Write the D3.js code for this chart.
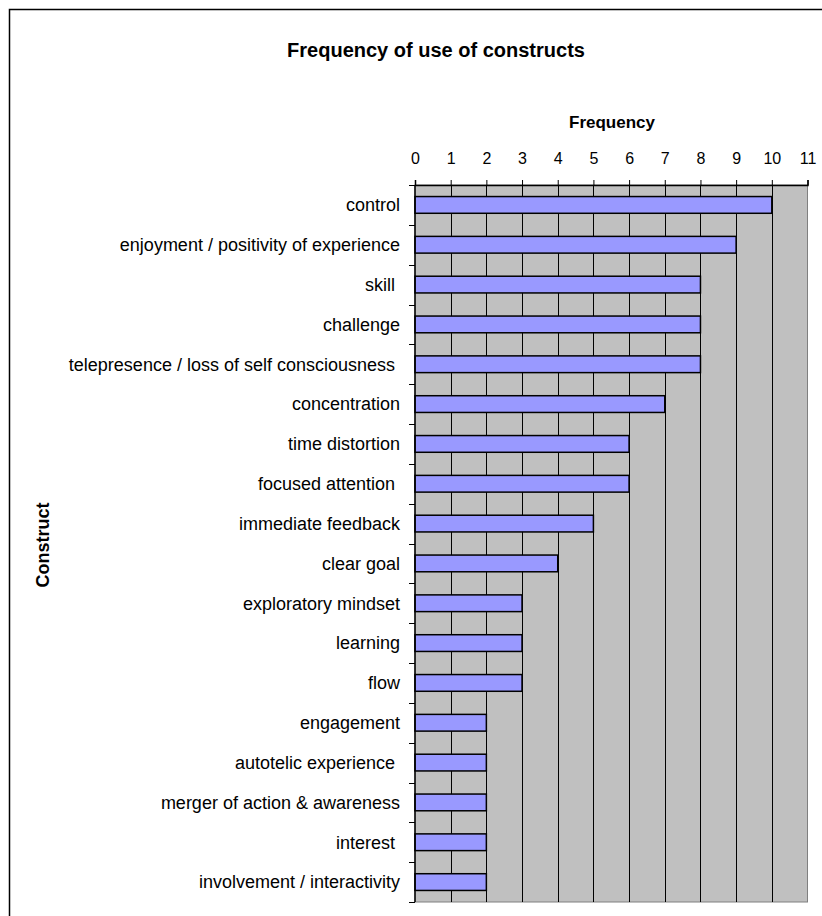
<!DOCTYPE html>
<html>
<head>
<meta charset="utf-8">
<script src="https://cdn.jsdelivr.net/npm/d3@7"></script>
<style>
  body { margin: 0; background: #fff; }
  svg text { font-family: "Liberation Sans", Arial, sans-serif; fill: #000; }
</style>
</head>
<body>
<svg id="chart" width="822" height="916"></svg>
<script>
// Constructs and how often each one was used
const constructs = [
  "control",
  "enjoyment / positivity of experience",
  "skill ",
  "challenge",
  "telepresence / loss of self consciousness ",
  "concentration",
  "time distortion",
  "focused attention ",
  "immediate feedback",
  "clear goal",
  "exploratory mindset",
  "learning",
  "flow",
  "engagement",
  "autotelic experience ",
  "merger of action & awareness",
  "interest ",
  "involvement / interactivity"
];
const frequencies = [10, 9, 8, 8, 8, 7, 6, 6, 5, 4, 3, 3, 3, 2, 2, 2, 2, 2];
const xTicks = [0, 1, 2, 3, 4, 5, 6, 7, 8, 9, 10, 11];

const svg = d3.select("#chart");
const plot = { left: 415, right: 807.5, top: 185, bottom: 902 };

// Outer frame
svg.append("rect")
  .attr("x", 9.5).attr("y", 9.5)
  .attr("width", 830).attr("height", 930)
  .attr("fill", "#fff").attr("stroke", "#000").attr("stroke-width", 1.5);

const x = d3.scaleLinear().domain([0, 11]).range([plot.left, plot.right]);
const y = d3.scaleBand().domain(constructs).range([plot.top, plot.bottom]).paddingInner(0.58).paddingOuter(0.29);
const yEdges = d3.scaleLinear().domain([0, constructs.length]).range([plot.top, plot.bottom]);

// Plot background
svg.append("rect")
  .attr("x", plot.left).attr("y", plot.top)
  .attr("width", plot.right - plot.left).attr("height", plot.bottom - plot.top)
  .attr("fill", "#c0c0c0").attr("stroke", "#808080").attr("stroke-width", 1);

// Vertical gridlines
svg.append("g").selectAll("line").data(xTicks.slice(1, -1)).join("line")
  .attr("x1", d => Math.round(x(d)) + 0.5).attr("x2", d => Math.round(x(d)) + 0.5)
  .attr("y1", plot.top).attr("y2", plot.bottom)
  .attr("stroke", "#000").attr("stroke-width", 1);

// Bars
svg.append("g").selectAll("rect").data(constructs).join("rect")
  .attr("x", x(0))
  .attr("y", d => y(d))
  .attr("width", (d, i) => x(frequencies[i]) - x(0))
  .attr("height", y.bandwidth())
  .attr("fill", "#9999ff").attr("stroke", "#000").attr("stroke-width", 1.5);

// Top axis
const xAxis = d3.axisTop(x).tickValues(xTicks).tickSize(5).tickPadding(16).tickFormat(d3.format("d"));
const gx = svg.append("g").attr("transform", `translate(0,${plot.top})`).call(xAxis);
gx.select(".domain").attr("stroke", "#000").attr("stroke-width", 1.5);
gx.selectAll(".tick line").attr("stroke", "#000");
gx.selectAll(".tick text").attr("font-size", 16).attr("font-family", '"Liberation Sans", Arial, sans-serif');

// Left axis: ticks on band boundaries, labels centred in each band
const gyTicks = svg.append("g");
gyTicks.append("line")
  .attr("x1", plot.left).attr("x2", plot.left)
  .attr("y1", plot.top).attr("y2", plot.bottom)
  .attr("stroke", "#000").attr("stroke-width", 1.5);
gyTicks.selectAll("line.t").data(d3.range(constructs.length + 1)).join("line")
  .attr("class", "t")
  .attr("x1", plot.left - 6).attr("x2", plot.left)
  .attr("y1", d => Math.round(yEdges(d)) + 0.5).attr("y2", d => Math.round(yEdges(d)) + 0.5)
  .attr("stroke", "#000");

svg.append("g").selectAll("text").data(constructs).join("text")
  .attr("x", 400)
  .attr("y", d => y(d) + y.bandwidth() / 2)
  .attr("dy", "0.35em")
  .attr("text-anchor", "end")
  .attr("font-size", 18)
  .style("white-space", "pre")
  .text(d => d);

// Titles
svg.append("text")
  .attr("x", 436).attr("y", 57)
  .attr("text-anchor", "middle")
  .attr("font-size", 20).attr("font-weight", "bold")
  .text("Frequency of use of constructs");

svg.append("text")
  .attr("x", 612).attr("y", 128)
  .attr("text-anchor", "middle")
  .attr("font-size", 17).attr("font-weight", "bold")
  .text("Frequency");

svg.append("text")
  .attr("transform", "translate(49,545) rotate(-90)")
  .attr("text-anchor", "middle")
  .attr("font-size", 18).attr("font-weight", "bold")
  .text("Construct");
</script>
</body>
</html>
